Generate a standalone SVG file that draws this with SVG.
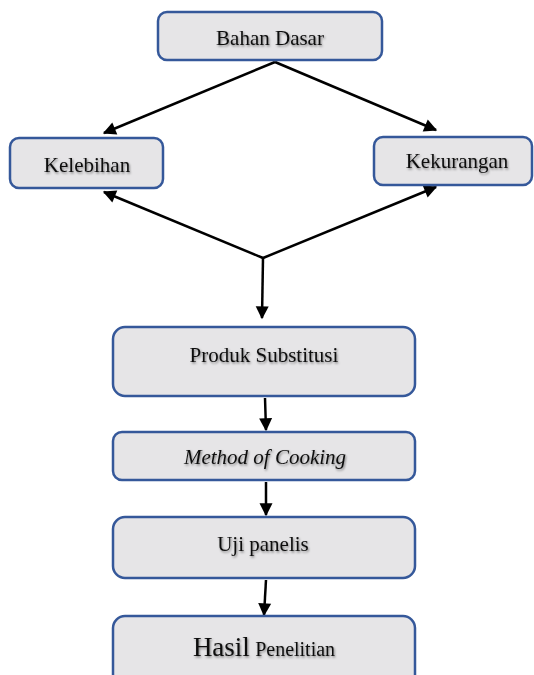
<svg xmlns="http://www.w3.org/2000/svg" width="534" height="675" viewBox="0 0 534 675">
<defs>
<style>
.box{fill:#e6e5e7;stroke:#35589a;stroke-width:2.5}
.t{font-family:"Liberation Serif","Times New Roman",serif;font-size:21px;fill:#111;text-anchor:middle;filter:url(#sh)}
.c{stroke:#000;stroke-width:2.5;fill:none}
</style>
<filter id="sh" x="-10%" y="-30%" width="120%" height="160%">
<feDropShadow dx="1" dy="1.5" stdDeviation="0.8" flood-color="#000" flood-opacity="0.45"/>
</filter>
<marker id="ah" viewBox="0 0 10 10" refX="9" refY="5" markerWidth="15" markerHeight="13" markerUnits="userSpaceOnUse" orient="auto" overflow="visible">
<path d="M0,0 L10,5 L0,10 z" fill="#000"/>
</marker>
</defs>
<rect width="534" height="675" fill="#fff"/>
<g id="connectors">
<path class="c" d="M275,62 L104,133" marker-end="url(#ah)"/>
<path class="c" d="M275,62 L436,130" marker-end="url(#ah)"/>
<path class="c" d="M263,258 L104,192" marker-end="url(#ah)"/>
<path class="c" d="M263,258 L436,187" marker-end="url(#ah)"/>
<path class="c" d="M263,258 L262,318" marker-end="url(#ah)"/>
<path class="c" d="M265,398 L266,430" marker-end="url(#ah)"/>
<path class="c" d="M266,482 L266,515" marker-end="url(#ah)"/>
<path class="c" d="M266,580 L264,615" marker-end="url(#ah)"/>
</g>
<g id="bahan-dasar">
<rect class="box" x="158" y="12" width="224" height="48" rx="9"/>
<text class="t" x="270" y="45">Bahan Dasar</text>
</g>
<g id="kelebihan">
<rect class="box" x="10" y="138" width="153" height="50" rx="9"/>
<text class="t" x="87" y="172">Kelebihan</text>
</g>
<g id="kekurangan">
<rect class="box" x="374" y="137" width="158" height="48" rx="9"/>
<text class="t" x="457" y="168">Kekurangan</text>
</g>
<g id="produk-substitusi">
<rect class="box" x="113" y="327" width="302" height="69" rx="12"/>
<text class="t" x="264" y="362">Produk Substitusi</text>
</g>
<g id="method-of-cooking">
<rect class="box" x="113" y="432" width="302" height="48" rx="9"/>
<text class="t" x="265" y="464" font-style="italic">Method of Cooking</text>
</g>
<g id="uji-panelis">
<rect class="box" x="113" y="517" width="302" height="61" rx="12"/>
<text class="t" x="263" y="551">Uji panelis</text>
</g>
<g id="hasil-penelitian">
<rect class="box" x="113" y="616" width="302" height="75" rx="12"/>
<text class="t" x="264" y="656"><tspan font-size="27">Hasil</tspan> <tspan font-size="20">Penelitian</tspan></text>
</g>
</svg>
